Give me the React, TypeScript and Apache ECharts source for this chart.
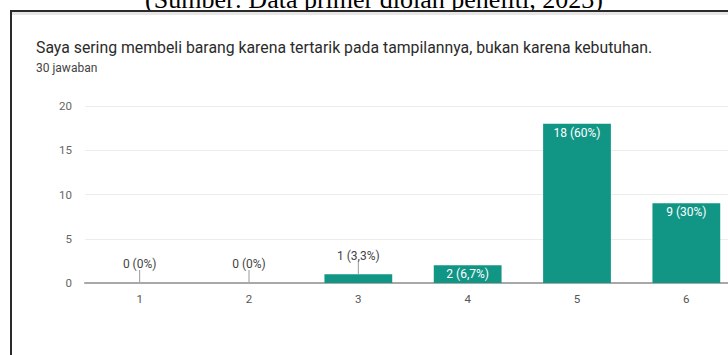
import React, { useEffect, useRef } from "react";
import * as echarts from "echarts";

const categories = ["1", "2", "3", "4", "5", "6"];
const counts = [0, 0, 1, 2, 18, 9];
const yTicks = { min: 0, max: 20, interval: 5 };
const captionText = "(Sumber: Data primer diolah peneliti, 2023)";
const titleText = "Saya sering membeli barang karena tertarik pada tampilannya, bukan karena kebutuhan.";
const subtitleText = "30 jawaban";
const MIN_INSIDE = 2;

const total = counts.reduce((a, b) => a + b, 0);
const fmtPct = (v: number) => {
  const p = Math.round((v / total) * 1000) / 10;
  return String(p).replace(".", ",");
};
const labelOf = (v: number) => `${v} (${fmtPct(v)}%)`;

const TEAL = "#119686";
const FONT = "Roboto, 'Noto Sans', sans-serif";

export default function App() {
  const ref = useRef<HTMLDivElement>(null);
  useEffect(() => {
    if (!ref.current) return;
    const chart = echarts.init(ref.current, null, { renderer: "svg" });
    chart.setOption({
      animation: false,
      backgroundColor: "#ffffff",
      textStyle: { fontFamily: FONT },
      grid: { left: 85, right: 19, top: 106, bottom: 72 },
      xAxis: {
        type: "category",
        data: categories,
        axisLine: { show: true, lineStyle: { color: "#a8a8a8", width: 2 } },
        axisTick: { show: false },
        axisLabel: { color: "#555", fontSize: 11.5, margin: 10, fontFamily: FONT },
      },
      yAxis: {
        type: "value",
        min: yTicks.min,
        max: yTicks.max,
        interval: yTicks.interval,
        axisLine: { show: false },
        axisTick: { show: false },
        axisLabel: { color: "#666", fontSize: 11.5, margin: 13, fontFamily: FONT },
        splitLine: { lineStyle: { color: "#ececec", width: 1 } },
      },
      graphic: [
        {
          type: "text",
          x: 374,
          y: -1,
          style: {
            text: captionText,
            fontFamily: "'Liberation Serif', 'Times New Roman', serif",
            fontSize: 26,
            fill: "#000",
            align: "center",
            verticalAlign: "middle",
          },
        },
        {
          type: "rect",
          shape: { x: 10, y: 10, width: 760, height: 2 },
          style: { fill: "#2a2a2a" },
        },
        {
          type: "rect",
          shape: { x: 12, y: 12, width: 760, height: 3 },
          style: { fill: "#e6e6e6" },
        },
        {
          type: "rect",
          shape: { x: 10, y: 10, width: 2, height: 360 },
          style: { fill: "#2a2a2a" },
        },
        {
          type: "text",
          x: 36,
          y: 47,
          style: {
            text: titleText,
            fontFamily: FONT,
            fontSize: 15.8,
            fill: "#2b2b2b",
            verticalAlign: "middle",
          },
        },
        {
          type: "text",
          x: 36,
          y: 68,
          style: {
            text: subtitleText,
            fontFamily: FONT,
            fontSize: 12,
            fill: "#444",
            verticalAlign: "middle",
          },
        },
      ],
      series: [
        {
          type: "bar",
          barWidth: "62%",
          itemStyle: { color: TEAL },
          data: counts.map((v) => ({
            value: v,
            label: {
              show: v >= MIN_INSIDE,
              position: "insideTop",
              distance: 3,
              color: "#fff",
              fontSize: 12,
              fontFamily: FONT,
              formatter: () => labelOf(v),
            },
          })),
        },
        {
          type: "custom",
          data: counts.map((v, i) => [i, v]),
          z: 5,
          renderItem: (params: any, api: any) => {
            const v = api.value(1);
            if (v >= MIN_INSIDE) return null;
            const p = api.coord([api.value(0), v]);
            const top = v === 0 ? p[1] - 1 : p[1];
            return {
              type: "group",
              children: [
                {
                  type: "line",
                  shape: { x1: p[0], y1: top - 12, x2: p[0], y2: top },
                  style: { stroke: "#9a9a9a", lineWidth: 1 },
                },
                {
                  type: "text",
                  style: {
                    text: labelOf(v),
                    x: p[0],
                    y: top - 18,
                    align: "center",
                    verticalAlign: "middle",
                    fill: "#444",
                    fontSize: 12,
                    fontFamily: FONT,
                  },
                },
              ],
            };
          },
        },
      ],
    });
    return () => chart.dispose();
  }, []);
  return (
    <div
      style={{
        position: "fixed",
        left: 0,
        top: 0,
        width: 728,
        height: 355,
        overflow: "hidden",
        background: "#fff",
      }}
    >
      <div ref={ref} style={{ width: 760, height: 355 }} />
    </div>
  );
}
